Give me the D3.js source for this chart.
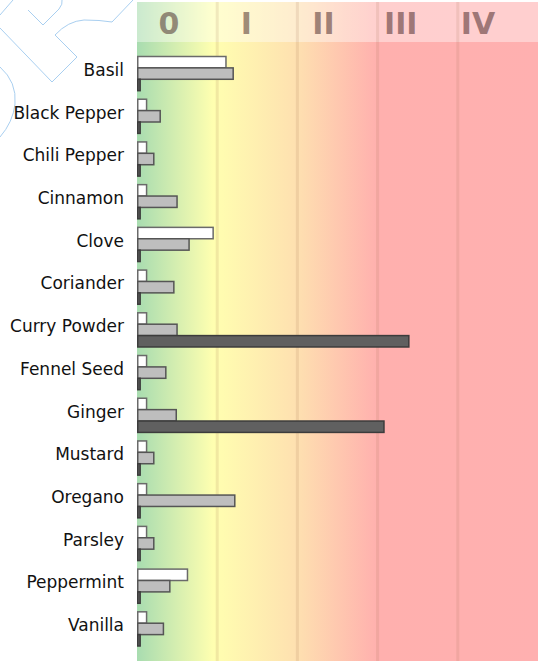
<!DOCTYPE html>
<html>
<head>
<meta charset="utf-8">
<script src="https://cdn.jsdelivr.net/npm/d3@7"></script>
<style>
  body { margin: 0; background: #fff; }
  svg { display: block; font-family: "DejaVu Sans", sans-serif; }
</style>
</head>
<body>
<svg id="chart" width="545" height="661"></svg>
<script>
'use strict';

// spices, one group of three bars each
var spices = ['Basil', 'Black Pepper', 'Chili Pepper', 'Cinnamon', 'Clove', 'Coriander', 'Curry Powder',
  'Fennel Seed', 'Ginger', 'Mustard', 'Oregano', 'Parsley', 'Peppermint', 'Vanilla']

// values in class units (1 unit = one class column)
var whiteVals = [1.10, 0.11, 0.11, 0.11, 0.94, 0.11, 0.11, 0.11, 0.11, 0.11, 0.11, 0.11, 0.62, 0.11]
var grayVals  = [1.19, 0.28, 0.20, 0.49, 0.64, 0.45, 0.49, 0.35, 0.48, 0.20, 1.21, 0.20, 0.40, 0.32]
var darkVals  = [0.03, 0.03, 0.03, 0.03, 0.03, 0.03, 3.38, 0.03, 3.07, 0.03, 0.03, 0.03, 0.03, 0.03]

var classLabels = ['0', 'I', 'II', 'III', 'IV']
var classEdges = [0, 1, 2, 3, 4, 5]

var svg = d3.select('#chart')

var plotL = 137, plotR = 538, plotT = 2, headerH = 40, plotB = 661

var x = d3.scaleLinear().domain([0, 5]).range([plotL, plotR])
var y = d3.scaleBand().domain(spices).range([56.5, 646]).paddingInner(0.2)
var sub = d3.scaleBand().domain(['w', 'g', 'd']).range([0, y.bandwidth()])
var labelX = d3.scalePoint().domain(classLabels).range([169, 478])

// background gradient
var defs = svg.append('defs')
var grad = defs.append('linearGradient').attr('id', 'bg')
  .attr('gradientUnits', 'userSpaceOnUse')
  .attr('x1', plotL).attr('x2', plotR).attr('y1', 0).attr('y2', 0)
var stops = [[0, '#a8dcb0'], [0.19, '#ffffb0'], [0.4, '#fee0b0'], [0.6, '#ffb0ae'], [1, '#ffb0b0']]
stops.forEach(function(s) {
  grad.append('stop').attr('offset', s[0]).attr('stop-color', s[1])
})

// watermark-ish logo lines, top left
var wm = svg.append('g').attr('fill', 'none').attr('stroke', '#a9cff0').attr('stroke-width', 1)
wm.append('path').attr('d', 'M0,28 L52,82 L77,57 L55,35 Q68,21 84,20 Q100,20 112,22 L133,0')
wm.append('path').attr('d', 'M28,10 L43,25 L59,9 Q63,4 62,0')
wm.append('path').attr('d', 'M0,15 L13,0')
wm.append('path').attr('d', 'M0,67 Q17,82 15,104 Q13,122 0,137')

svg.append('rect').attr('x', plotL).attr('y', plotT).attr('width', plotR - plotL).attr('height', plotB - plotT)
  .attr('fill', 'url(#bg)')

// lighter header band
svg.append('rect').attr('x', plotL).attr('y', plotT).attr('width', plotR - plotL).attr('height', headerH)
  .attr('fill', '#fff').attr('opacity', 0.4)

// class dividers
svg.append('g').selectAll('line').data(classEdges.slice(1, 5)).join('line')
  .attr('x1', function(d) { return x(d) }).attr('x2', function(d) { return x(d) })
  .attr('y1', plotT).attr('y2', plotB)
  .attr('stroke', '#a07050').attr('stroke-opacity', 0.15).attr('stroke-width', 3)

// class labels
svg.append('g').selectAll('text').data(classLabels).join('text')
  .attr('x', function(d) { return labelX(d) })
  .attr('y', plotT + 32)
  .attr('text-anchor', 'middle')
  .attr('font-size', 30).attr('font-weight', 'bold')
  .attr('fill', '#402020').attr('fill-opacity', 0.5)
  .text(function(d) { return d })

// bars
var series = [
  { key: 'w', vals: whiteVals, fill: '#ffffff', stroke: '#6a6a6a' },
  { key: 'g', vals: grayVals, fill: '#bebebe', stroke: '#555555' },
  { key: 'd', vals: darkVals, fill: '#606060', stroke: '#3c3c3c' }
]

series.forEach(function(s) {
  svg.append('g').selectAll('rect').data(spices).join('rect')
    .attr('x', x(0) + 0.75)
    .attr('y', function(d) { return y(d) + sub(s.key) })
    .attr('width', function(d, i) { return x(s.vals[i]) - x(0) })
    .attr('height', sub.bandwidth())
    .attr('fill', s.fill).attr('stroke', s.stroke).attr('stroke-width', 1.5)
})

// spice labels
svg.append('g').selectAll('text').data(spices).join('text')
  .attr('x', 124)
  .attr('y', function(d) { return y(d) + sub.bandwidth() + 2 })
  .attr('dy', '0.35em')
  .attr('text-anchor', 'end')
  .attr('font-size', 17).attr('fill', '#111')
  .text(function(d) { return d })
</script>
</body>
</html>
